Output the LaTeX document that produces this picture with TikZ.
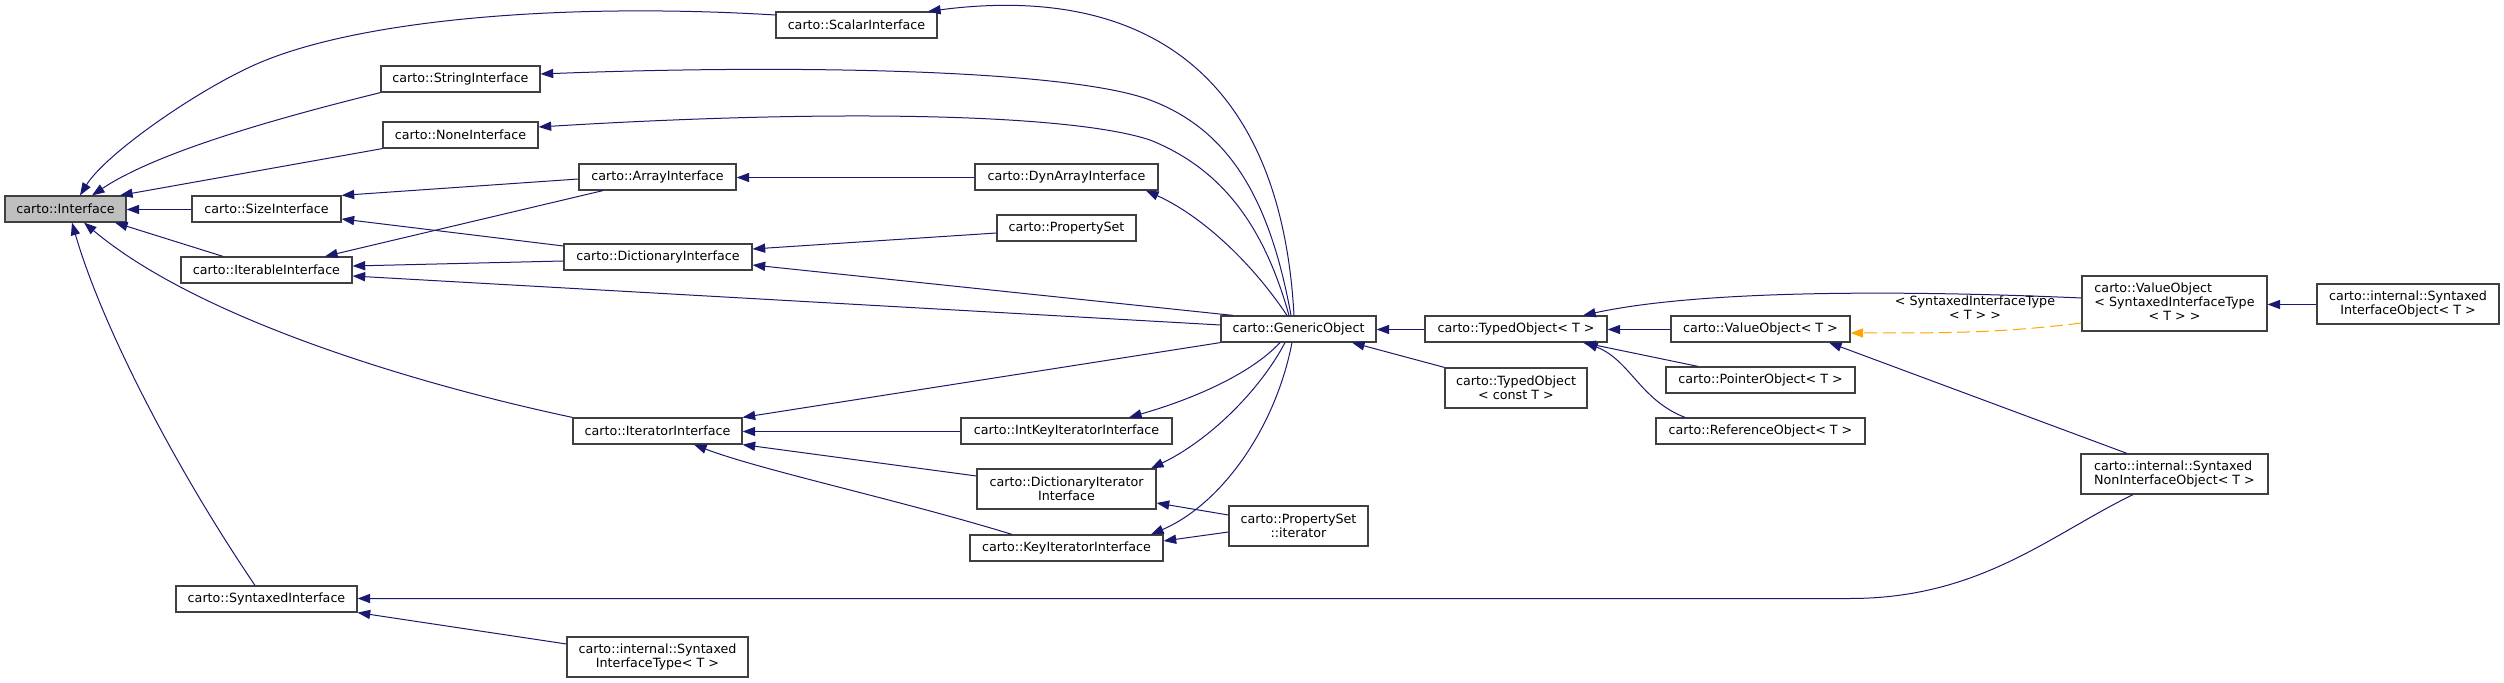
\documentclass[tikz,border=0pt]{standalone}
\usepackage{fontspec}
\setmainfont{DejaVu Sans}
\usetikzlibrary{arrows.meta}
\definecolor{edgeblue}{HTML}{191970}
\definecolor{tmplorange}{HTML}{FFA500}
\definecolor{rootgray}{HTML}{BFBFBF}
\definecolor{boxline}{HTML}{404040}
\newcommand\nfont{\fontsize{6.35pt}{7pt}\selectfont}
\newcommand\mknode[7][]{\node[nbox,minimum width={(#5-#3)*0.5pt},minimum height={(#6-#4)*0.5pt},#1] (#2) at ({(#3+#5)/2},{(#4+#6)/2}) {#7};}
\tikzset{
  nbox/.style={draw=boxline, line width=0.6pt, fill=white, inner sep=0pt, align=center, font=\nfont, text=black},
  inh/.style={draw=edgeblue, line width=0.5pt, -{Triangle[length=6.3pt,width=4.6pt]}},
  tmpl/.style={draw=tmplorange, line width=0.5pt, dash pattern=on 6.5pt off 2.8pt, -{Triangle[length=6.3pt,width=4.6pt,fill=tmplorange]}},
  lbl/.style={font=\nfont, align=center, inner sep=0pt, text=black}
}
\begin{document}
\begin{tikzpicture}[x=0.5pt,y=-0.5pt]
\useasboundingbox (0,0) rectangle (2504,683);
% nodes
\mknode[fill=rootgray]{Interface}{5}{196}{126}{222}{carto::Interface}
\mknode{ScalarInterface}{776}{12}{937}{38}{carto::ScalarInterface}
\mknode{StringInterface}{381}{66}{540}{92}{carto::StringInterface}
\mknode{NoneInterface}{383}{122}{538}{148}{carto::NoneInterface}
\mknode{SizeInterface}{192}{196}{341}{222}{carto::SizeInterface}
\mknode{IterableInterface}{181}{257}{352}{283}{carto::IterableInterface}
\mknode{ArrayInterface}{579}{164}{736}{190}{carto::ArrayInterface}
\mknode{DictionaryInterface}{564}{244}{752}{270}{carto::DictionaryInterface}
\mknode{DynArrayInterface}{975}{164}{1158}{190}{carto::DynArrayInterface}
\mknode{PropertySet}{997}{215}{1136}{241}{carto::PropertySet}
\mknode{GenericObject}{1221}{316}{1376}{342}{carto::GenericObject}
\mknode{IteratorInterface}{573}{418}{742}{444}{carto::IteratorInterface}
\mknode{IntKeyIteratorInterface}{961}{418}{1172}{444}{carto::IntKeyIteratorInterface}
\mknode{DictionaryIteratorInterface}{977}{469}{1156}{509}{carto::DictionaryIterator\\Interface}
\mknode{KeyIteratorInterface}{970}{535}{1163}{561}{carto::KeyIteratorInterface}
\mknode{PropertySetIterator}{1229}{506}{1368}{546}{carto::PropertySet\\::iterator}
\mknode{SyntaxedInterface}{176}{586}{357}{612}{carto::SyntaxedInterface}
\mknode{SyntaxedInterfaceType}{567}{637}{748}{677}{carto::internal::Syntaxed\\InterfaceType< T >}
\mknode{TypedObject}{1425}{316}{1607}{342}{carto::TypedObject< T >}
\mknode{ValueObject}{1671}{316}{1850}{342}{carto::ValueObject< T >}
\mknode{TypedObjectConst}{1445}{368}{1587}{408}{carto::TypedObject\\< const T >}
\mknode{PointerObject}{1666}{367}{1855}{393}{carto::PointerObject< T >}
\mknode{ReferenceObject}{1656}{418}{1865}{444}{carto::ReferenceObject< T >}
\mknode{ValueObjectSynt}{2082}{276}{2267}{331}{\begin{tabular}{@{}l@{}}carto::ValueObject\\< SyntaxedInterfaceType\\\multicolumn{1}{@{}c@{}}{< T > >}\end{tabular}}
\mknode{SyntaxedInterfaceObject}{2317}{284}{2499}{324}{carto::internal::Syntaxed\\InterfaceObject< T >}
\mknode[align=left]{SyntaxedNonInterfaceObject}{2081}{454}{2268}{494}{carto::internal::Syntaxed\\NonInterfaceObject< T >}
% edges to Interface
\draw[inh] (ScalarInterface.west |- 0,15) .. controls (560,2) and (350,20) .. (250,67) .. controls (190,95) and (105,155) .. (80,0 |- Interface.north);
\draw[inh] (StringInterface.south west) .. controls (290,115) and (160,150) .. (92,0 |- Interface.north);
\draw[inh] (NoneInterface.south west) -- (120,0 |- Interface.north);
\draw[inh] (SizeInterface.west |- 0,209.5) -- (Interface.east |- 0,209.5);
\draw[inh] (223,0 |- IterableInterface.north) -- (115,0 |- Interface.south);
\draw[inh] (IteratorInterface.north west) .. controls (420,385) and (200,320) .. (84,0 |- Interface.south);
\draw[inh] (255,0 |- SyntaxedInterface.north) .. controls (170,460) and (100,320) .. (72,0 |- Interface.south);
% Size / Iterable
\draw[inh] (ArrayInterface.west |- 0,179) -- (SizeInterface.north east);
\draw[inh] (DictionaryInterface.west |- 0,246) -- (SizeInterface.east |- 0,219);
\draw[inh] (603,0 |- ArrayInterface.south) -- (325,0 |- IterableInterface.north);
\draw[inh] (DictionaryInterface.west |- 0,261) -- (IterableInterface.east |- 0,266);
\draw[inh] (GenericObject.west |- 0,325) -- (IterableInterface.east |- 0,276);
% Array / Dictionary
\draw[inh] (DynArrayInterface.west |- 0,177.5) -- (ArrayInterface.east |- 0,177.5);
\draw[inh] (PropertySet.west |- 0,233) -- (DictionaryInterface.east |- 0,249);
\draw[inh] (1233,0 |- GenericObject.north) -- (DictionaryInterface.east |- 0,265);
% GenericObject upward
\draw[inh] (1287,0 |- GenericObject.north) .. controls (1250,260) and (1200,215) .. (1146,0 |- DynArrayInterface.south);
\draw[inh] (1294,0 |- GenericObject.north) .. controls (1280,60) and (1130,-15) .. (928,0 |- ScalarInterface.north);
\draw[inh] (1291,0 |- GenericObject.north) .. controls (1270,200) and (1230,130) .. (1150,100) .. controls (1070,70) and (800,64) .. (StringInterface.east |- 0,74);
\draw[inh] (1289,0 |- GenericObject.north) .. controls (1265,230) and (1225,170) .. (1150,140) .. controls (1075,115) and (850,108) .. (NoneInterface.east |- 0,127);
% Iterator family
\draw[inh] (GenericObject.south west) -- (IteratorInterface.north east);
\draw[inh] (IntKeyIteratorInterface.west |- 0,431.5) -- (IteratorInterface.east |- 0,431.5);
\draw[inh] (DictionaryIteratorInterface.west |- 0,476) -- (IteratorInterface.south east);
\draw[inh] (1012,0 |- KeyIteratorInterface.north) .. controls (900,500) and (760,470) .. (694,0 |- IteratorInterface.south);
\draw[inh] (1280,0 |- GenericObject.south) .. controls (1250,375) and (1190,400) .. (1129,0 |- IntKeyIteratorInterface.north);
\draw[inh] (1285,0 |- GenericObject.south) .. controls (1260,390) and (1210,440) .. (1151,0 |- DictionaryIteratorInterface.north);
\draw[inh] (1292,0 |- GenericObject.south) .. controls (1275,430) and (1220,505) .. (1151,0 |- KeyIteratorInterface.north);
\draw[inh] (PropertySetIterator.west |- 0,515) -- (DictionaryIteratorInterface.east |- 0,503);
\draw[inh] (PropertySetIterator.west |- 0,532) -- (KeyIteratorInterface.east |- 0,541);
% Typed objects
\draw[inh] (TypedObject.west |- 0,329.5) -- (GenericObject.east |- 0,329.5);
\draw[inh] (TypedObjectConst.north west) -- (1352,0 |- GenericObject.south);
\draw[inh] (ValueObject.west |- 0,329.5) -- (TypedObject.east |- 0,329.5);
\draw[inh] (1698,0 |- PointerObject.north) -- (1583,0 |- TypedObject.south);
\draw[inh] (1685,0 |- ReferenceObject.north) .. controls (1640,400) and (1630,360) .. (1585,0 |- TypedObject.south);
\draw[inh] (ValueObjectSynt.west |- 0,298) .. controls (1900,290) and (1700,290) .. (1583,0 |- TypedObject.north);
\draw[inh] (SyntaxedInterfaceObject.west |- 0,304.5) -- (ValueObjectSynt.east |- 0,304.5);
\draw[tmpl] (ValueObjectSynt.west |- 0,323) .. controls (2000,333) and (1950,333) .. (ValueObject.east |- 0,333);
\node[lbl] (tmpllabel) at (1975,308) {< SyntaxedInterfaceType\\< T > >};
\draw[inh] (2127,0 |- SyntaxedNonInterfaceObject.north) -- (1829,0 |- ValueObject.south);
\draw[inh] (2133,0 |- SyntaxedNonInterfaceObject.south) .. controls (2050,535) and (1980,598.5) .. (1850,598.5) -- (SyntaxedInterface.east |- 0,598.5);
\draw[inh] (SyntaxedInterfaceType.west |- 0,644) -- (SyntaxedInterface.south east);
\end{tikzpicture}
\end{document}
